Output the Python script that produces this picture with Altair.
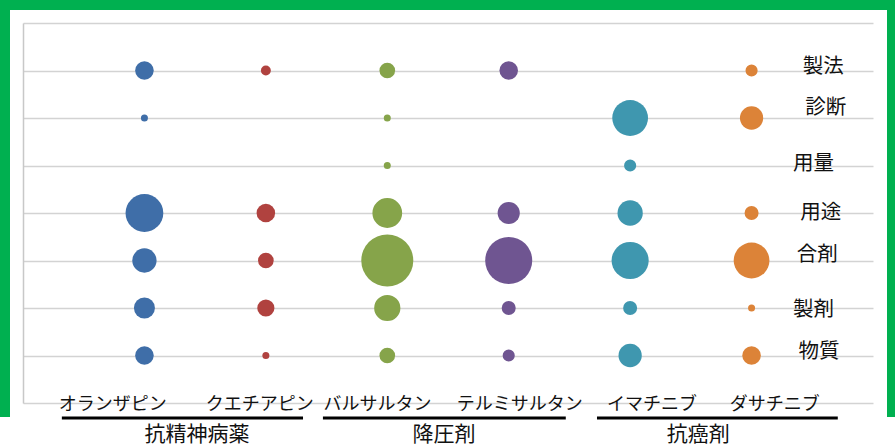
import altair as alt
import pandas as pd

# ---- data ----
drugs = ["オランザピン", "クエチアピン", "バルサルタン", "テルミサルタン", "イマチニブ", "ダサチニブ"]
aspects = ["製法", "診断", "用量", "用途", "合剤", "製剤", "物質"]  # top to bottom
v_olanzapine = [7, 1, 0, 29, 12, 9, 7]
v_quetiapine = [2, 0, 0, 7, 5, 6, 1]
v_valsartan = [5, 1, 1, 18, 55, 14, 5]
v_telmisartan = [7, 0, 0, 10, 45, 4, 3]
v_imatinib = [0, 26, 3, 13, 28, 4, 11]
v_dasatinib = [3, 11, 0, 4, 26, 1, 7]
groups = ["抗精神病薬", "降圧剤", "抗癌剤"]

# ---- layout / style ----
colors = ["#3f6ea8", "#b0423f", "#86a44a", "#6f5591", "#3f97af", "#dc8338"]
row_label_x = [6.59, 6.61, 6.51, 6.57, 6.54, 6.51, 6.555]
row_label_y = [7.07, 6.21, 5.03, 4.0, 3.12, 1.96, 1.07]
name_x = [0.74, 1.95, 2.92, 4.09, 5.18, 6.19]
group_x = [1.433, 3.467, 5.56]
group_x0 = [0.32, 2.47, 4.727]
group_x1 = [2.306, 4.47, 6.71]
FONT = "Noto Sans CJK JP"
GREEN = "#00b050"

series = [v_olanzapine, v_quetiapine, v_valsartan, v_telmisartan, v_imatinib, v_dasatinib]
rows = []
for i, (d, vals) in enumerate(zip(drugs, series)):
    for j, (a, v) in enumerate(zip(aspects, vals)):
        if v > 0:
            rows.append({"drug": d, "xi": i + 1, "aspect": a, "yi": 7 - j, "value": v})
df = pd.DataFrame(rows)

xs = alt.Scale(domain=[0, 7], nice=False, zero=False)
ys = alt.Scale(domain=[0, 8], nice=False, zero=False)

bubbles = alt.Chart(df).mark_circle(opacity=1).encode(
    x=alt.X("xi:Q", scale=xs, axis=None),
    y=alt.Y("yi:Q", scale=ys, axis=alt.Axis(values=list(range(9)), grid=True, labels=False,
                                            ticks=False, domain=True, title=None,
                                            gridColor="#d3d3d3", gridWidth=1.5,
                                            domainColor="#c8c8c8", domainWidth=1.5)),
    size=alt.Size("value:Q", scale=alt.Scale(domain=[0, 55], range=[0, 2704]), legend=None),
    color=alt.Color("drug:N", scale=alt.Scale(domain=drugs, range=colors), legend=None),
)

row_df = pd.DataFrame({"aspect": aspects, "lx": row_label_x, "ly": row_label_y})
row_labels = alt.Chart(row_df).mark_text(font=FONT, fontSize=20.5, color="#111111",
                                          align="center", baseline="middle").encode(
    x=alt.X("lx:Q", scale=xs), y=alt.Y("ly:Q", scale=ys), text="aspect:N")

name_df = pd.DataFrame({"drug": drugs, "nx": name_x})
names = alt.Chart(name_df).mark_text(font=FONT, fontSize=18, color="#111111",
                                     align="center", baseline="middle").encode(
    x=alt.X("nx:Q", scale=xs), y=alt.value(382), text="drug:N")

grp_df = pd.DataFrame({"group": groups, "gx": group_x, "gx0": group_x0, "gx1": group_x1})
underlines = alt.Chart(grp_df).mark_rule(color="black", strokeWidth=3).encode(
    x=alt.X("gx0:Q", scale=xs), x2="gx1:Q", y=alt.value(395))
group_labels = alt.Chart(grp_df).mark_text(font=FONT, fontSize=21, color="#111111",
                                           align="center", baseline="middle").encode(
    x=alt.X("gx:Q", scale=xs), y=alt.value(412), text="group:N")

one = pd.DataFrame({"k": [0]})
frame_top = alt.Chart(one).mark_rect(color=GREEN).encode(
    x=alt.value(-23), x2=alt.value(872), y=alt.value(-23), y2=alt.value(-13))
frame_left = alt.Chart(one).mark_rect(color=GREEN).encode(
    x=alt.value(-23), x2=alt.value(-13), y=alt.value(-23), y2=alt.value(394))
frame_right = alt.Chart(one).mark_rect(color=GREEN).encode(
    x=alt.value(864), x2=alt.value(872), y=alt.value(-23), y2=alt.value(394))

chart = alt.layer(
    frame_top, frame_left, frame_right,
    bubbles, row_labels, names, underlines, group_labels
).properties(
    width=850, height=380,
    autosize=alt.AutoSizeParams(type="none"),
    padding={"left": 23, "top": 23, "right": 22, "bottom": 43},
    background="white",
).configure_view(stroke=None)

chart.save("out.html", embed_options={"renderer": "svg", "actions": False})
